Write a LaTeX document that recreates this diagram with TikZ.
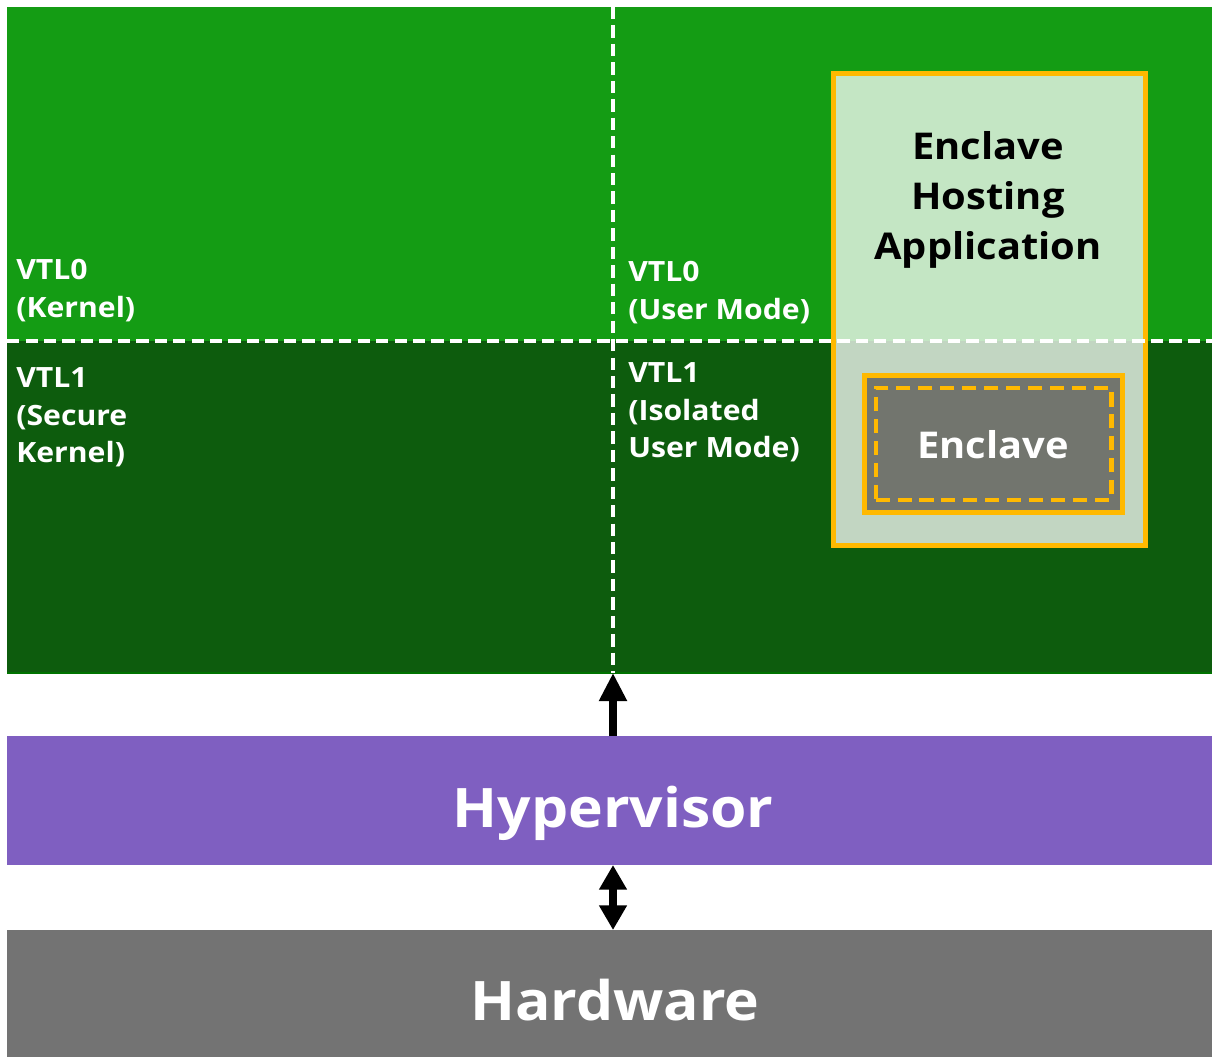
\documentclass[tikz,border=0pt]{standalone}
\usepackage{fontspec}
\setmainfont{Open Sans}[FakeStretch=1.08]
\usetikzlibrary{arrows.meta}
\definecolor{vtlzerogreen}{HTML}{149C14}
\definecolor{vtlonegreen}{HTML}{0D5C0D}
\definecolor{hypviolet}{HTML}{7F5FC1}
\definecolor{hwgray}{HTML}{737373}
\definecolor{enclgray}{HTML}{72756E}
\definecolor{encyellow}{HTML}{FFB900}
\tikzset{
  band/.style={draw=none, minimum width=24.1cm, inner sep=0pt, outer sep=0pt},
  sep/.style={draw=white, line width=2.1pt, dash pattern=on 7pt off 3.5pt},
  vtllabel/.style={text=white, font=\bfseries\fontsize{15.9}{21.5}\selectfont, align=left, anchor=north west, inner sep=0pt},
  biglabel/.style={text=white, font=\bfseries\fontsize{31}{36}\selectfont, anchor=base, inner sep=0pt},
  ybox/.style={draw=encyellow, line width=3pt, inner sep=0pt},
  archarrow/.style={line width=4pt, black},
}
\begin{document}
\begin{tikzpicture}[x=0.02cm, y=-0.02cm]
\useasboundingbox (0,0) rectangle (1212,1057);
% bands
\node[band, fill=vtlzerogreen, minimum height=6.68cm] (vtlzero) at (609.5,174) {};
\node[band, fill=vtlonegreen, minimum height=6.64cm] (vtlone) at (609.5,507) {};
\node[band, fill=hypviolet, minimum height=2.58cm] (hyp) at (609.5,800.5) {};
\node[band, fill=hwgray, minimum height=2.54cm] (hw) at (609.5,993.5) {};
\draw[line width=1pt, draw=green!45!black] (vtlone.south west) -- (vtlone.south east);
\coordinate (split) at (613,7);
% host application box
\node[ybox, fill=white, fill opacity=0.75, minimum width=6.23cm, minimum height=9.43cm] (host) at (989.5,309.5) {};
\node[ybox, fill=enclgray, minimum width=5.15cm, minimum height=2.73cm] (encl) at (993.5,444) {};
\node[draw=encyellow, line width=2.3pt, dash pattern=on 8pt off 4.5pt, minimum width=4.72cm, minimum height=2.24cm, inner sep=0pt] (enclin) at (993.5,444) {};
% separators
\draw[sep] (vtlzero.south west) -- (vtlzero.south east);
\draw[sep] (split) -- (vtlone.south -| split);
% labels
\node[vtllabel] (lkern) at (16,259) {VTL0\\(Kernel)};
\node[vtllabel] (lsec) at (16,367) {VTL1\\(Secure\\Kernel)};
\node[vtllabel] (luser) at (628,261) {VTL0\\(User Mode)};
\node[vtllabel] (liso) at (628,362) {VTL1\\(Isolated\\User Mode)};
\node[text=black, font=\bfseries\fontsize{21}{28.5}\selectfont, align=center, anchor=north, inner sep=0pt] (hosttext) at (988,131) {Enclave\\Hosting\\Application};
\node[text=white, font=\bfseries\fontsize{21}{28.5}\selectfont, anchor=base, inner sep=0pt] (encltext) at (993,458) {Enclave};
\node[biglabel] (hyptext) at (613,827) {Hypervisor};
\node[biglabel] (hwtext) at (615,1020) {Hardware};
% arrows
\draw[archarrow, -{Triangle[length=16pt, width=15pt]}] (hyp.north -| split) -- (vtlone.south -| split);
\draw[archarrow, {Triangle[length=14pt, width=15pt]}-{Triangle[length=14pt, width=15pt]}] (hyp.south -| split) -- (hw.north -| split);
\end{tikzpicture}
\end{document}
